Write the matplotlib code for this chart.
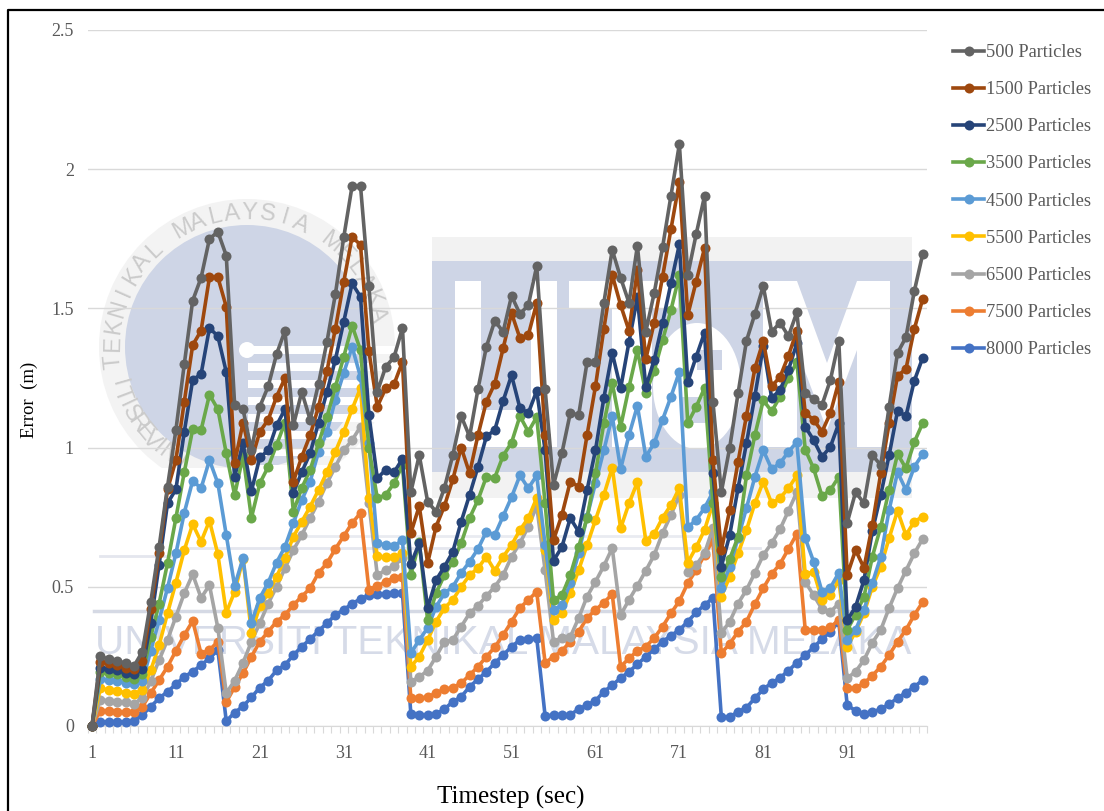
import numpy as np
import matplotlib
matplotlib.use("Agg")
import matplotlib.pyplot as plt
from matplotlib.patches import Circle, Ellipse, Rectangle

# ---------------------------------------------------
# Data
# ---------------------------------------------------

timesteps = list(range(1, 101))

err_500 = [0, .25, .24, .235, .225, .215, .267, .445, .644, .86,
           1.063, 1.30, 1.528, 1.61, 1.75, 1.775, 1.69, 1.153, 1.138, .99,
           1.147, 1.22, 1.336, 1.42, 1.08, 1.2, 1.10, 1.23, 1.38, 1.55,
           1.755, 1.94, 1.94, 1.58, 1.2, 1.29, 1.325, 1.43, .84, .973,
           .806, .77, .855, .973, 1.113, 1.04, 1.21, 1.362, 1.455, 1.416,
           1.545, 1.48, 1.512, 1.652, 1.21, .866, .98, 1.124, 1.117, 1.307,
           1.307, 1.52, 1.71, 1.61, 1.52, 1.725, 1.416, 1.555, 1.72, 1.905,
           2.09, 1.62, 1.766, 1.904, 1.165, .84, 1.0, 1.196, 1.384, 1.48,
           1.58, 1.416, 1.449, 1.40, 1.486, 1.196, 1.175, 1.153, 1.243, 1.383,
           .73, .84, .80, .973, .937, 1.147, 1.34, 1.396, 1.562, 1.695]
err_1500 = [0, .23, .225, .22, .21, .205, .235, .42, .62, .85,
            .955, 1.165, 1.368, 1.42, 1.612, 1.612, 1.506, .945, 1.09, .955,
            1.057, 1.10, 1.183, 1.25, .878, .967, 1.045, 1.147, 1.275, 1.426,
            1.595, 1.757, 1.728, 1.347, 1.147, 1.213, 1.228, 1.308, .693, .79,
            .585, .716, .79, .886, 1.0, .908, 1.045, 1.165, 1.23, 1.357,
            1.483, 1.393, 1.404, 1.52, 1.045, .668, .758, .878, .86, 1.045,
            1.22, 1.426, 1.62, 1.512, 1.42, 1.638, 1.318, 1.449, 1.614, 1.785,
            1.955, 1.476, 1.596, 1.717, .955, .632, .776, .95, 1.115, 1.285,
            1.383, 1.22, 1.254, 1.33, 1.42, 1.124, 1.10, 1.057, 1.124, 1.237,
            .542, .632, .568, .722, .908, 1.087, 1.258, 1.282, 1.426, 1.534]
err_2500 = [0, .21, .205, .2, .19, .185, .205, .37, .58, .80,
            .85, 1.057, 1.243, 1.264, 1.43, 1.40, 1.272, .895, 1.016, .844,
            .965, .99, 1.08, 1.138, .838, .912, .98, 1.09, 1.20, 1.315,
            1.452, 1.59, 1.542, 1.117, .89, .92, .912, .959, .582, .657,
            .424, .524, .572, .626, .734, .83, .931, 1.04, 1.063, 1.168,
            1.26, 1.142, 1.124, 1.204, .99, .594, .643, .747, .698, .848,
            .99, 1.178, 1.34, 1.213, 1.38, 1.54, 1.217, 1.315, 1.449, 1.59,
            1.73, 1.235, 1.326, 1.413, .908, .572, .686, .855, 1.016, 1.185,
            1.365, 1.178, 1.207, 1.279, 1.375, 1.075, 1.027, .967, 1.003, 1.087,
            .38, .428, .524, .70, .83, .973, 1.132, 1.113, 1.24, 1.323]
err_3500 = [0, .195, .19, .185, .175, .17, .185, .32, .44, .585,
            .747, .912, 1.066, 1.063, 1.19, 1.138, .98, .83, .97, .748,
            .872, .931, 1.01, 1.09, .77, .855, .92, 1.016, 1.11, 1.217,
            1.326, 1.438, 1.35, 1.0, .818, .83, .872, .937, .542, .66,
            .38, .477, .542, .59, .657, .747, .812, .895, .892, .971,
            1.018, 1.113, 1.057, 1.11, .80, .453, .47, .542, .644, .747,
            .908, 1.087, 1.232, 1.075, 1.217, 1.35, 1.196, 1.276, 1.386, 1.494,
            1.62, 1.088, 1.146, 1.214, .80, .536, .60, .68, .90, 1.045,
            1.17, 1.13, 1.183, 1.25, 1.308, .993, .925, .826, .848, .895,
            .345, .40, .464, .608, .716, .848, .977, .926, 1.02, 1.088]
err_4500 = [0, .17, .165, .16, .155, .15, .16, .27, .38, .496,
            .62, .766, .881, .854, .955, .872, .686, .503, .603, .37,
            .46, .515, .587, .644, .729, .812, .878, .985, 1.057, 1.171,
            1.268, 1.362, 1.254, 1.016, .657, .65, .646, .668, .262, .309,
            .352, .428, .477, .50, .55, .59, .636, .698, .686, .754,
            .822, .90, .854, .90, .65, .417, .435, .513, .62, .752,
            .872, .99, 1.113, .923, 1.045, 1.15, .967, 1.016, 1.10, 1.183,
            1.272, .714, .74, .783, .84, .495, .572, .675, .783, .895,
            .99, .923, .944, .985, 1.02, .675, .59, .482, .497, .55,
            .309, .345, .417, .513, .608, .776, .912, .848, .931, .977]
err_5500 = [0, .135, .13, .125, .12, .115, .13, .20, .29, .405,
            .515, .632, .725, .662, .737, .617, .407, .482, .60, .335,
            .43, .477, .536, .603, .68, .734, .788, .848, .912, .985,
            1.057, 1.138, 1.214, .82, .61, .606, .606, .62, .213, .249,
            .309, .375, .424, .453, .50, .542, .567, .608, .558, .608,
            .65, .704, .747, .819, .632, .381, .405, .477, .56, .65,
            .74, .83, .928, .71, .80, .876, .666, .69, .748, .794,
            .854, .587, .642, .704, .80, .465, .536, .62, .704, .80,
            .878, .80, .819, .854, .90, .545, .554, .453, .47, .524,
            .285, .338, .405, .50, .572, .675, .773, .686, .734, .752]
err_6500 = [0, .095, .09, .085, .085, .08, .10, .16, .237, .309,
            .393, .477, .545, .46, .506, .352, .118, .163, .227, .303,
            .37, .44, .50, .567, .632, .686, .747, .806, .872, .931,
            .99, 1.027, 1.075, .80, .542, .56, .575, .603, .159, .176,
            .199, .249, .303, .309, .357, .405, .432, .467, .50, .542,
            .608, .657, .716, .79, .56, .303, .316, .32, .388, .465,
            .518, .575, .639, .399, .453, .504, .558, .614, .693, .758,
            .83, .553, .578, .62, .711, .334, .375, .44, .489, .55,
            .614, .657, .707, .773, .84, .518, .47, .42, .41, .44,
            .172, .195, .237, .299, .345, .424, .495, .558, .62, .672]
err_7500 = [0, .055, .055, .05, .05, .05, .069, .118, .165, .213,
            .27, .327, .377, .26, .273, .303, .086, .14, .19, .249,
            .303, .339, .375, .399, .435, .465, .495, .55, .585, .636,
            .682, .729, .765, .49, .503, .518, .533, .536, .10, .10,
            .104, .118, .132, .138, .154, .183, .213, .249, .283, .327,
            .375, .424, .453, .482, .227, .249, .27, .303, .339, .388,
            .417, .443, .474, .213, .243, .27, .285, .316, .357, .405,
            .449, .513, .56, .614, .668, .262, .295, .339, .375, .438,
            .495, .546, .582, .636, .69, .345, .345, .345, .355, .381,
            .136, .136, .154, .181, .213, .255, .303, .345, .399, .445]
err_8000 = [0, .015, .015, .015, .015, .018, .04, .069, .10, .123,
            .15, .177, .195, .219, .243, .273, .018, .048, .071, .103,
            .138, .163, .20, .219, .255, .285, .312, .342, .369, .399,
            .417, .44, .456, .47, .474, .474, .477, .477, .043, .039,
            .039, .043, .061, .087, .105, .141, .168, .195, .226, .255,
            .285, .309, .312, .316, .036, .039, .039, .04, .061, .075,
            .091, .123, .147, .172, .195, .222, .249, .276, .303, .325,
            .345, .375, .408, .435, .46, .033, .033, .051, .066, .10,
            .132, .155, .173, .199, .227, .255, .283, .312, .339, .375,
            .075, .055, .043, .05, .061, .079, .10, .12, .141, .165]

series = [err_500, err_1500, err_2500, err_3500, err_4500,
          err_5500, err_6500, err_7500, err_8000]
labels = ["500 Particles", "1500 Particles", "2500 Particles", "3500 Particles",
          "4500 Particles", "5500 Particles", "6500 Particles", "7500 Particles",
          "8000 Particles"]
colors = ["#636363", "#9e480e", "#264478", "#6aa84a", "#5b9bd5",
          "#ffc000", "#a5a5a5", "#ed7d31", "#4472c4"]

WIDTH, HEIGHT = 1104, 811
SERIF = "Liberation Serif"
WM_BLUE = "#ced5e6"
WM_PALE = "#f2f2f2"

fig = plt.figure(figsize=(WIDTH / 100, HEIGHT / 100), dpi=100, facecolor="white")

# ---------------------------------------------------
# Background layer in pixel coordinates (watermark, frame)
# ---------------------------------------------------

bg = fig.add_axes([0, 0, 1, 1], zorder=0)
bg.set_xlim(0, WIDTH)
bg.set_ylim(HEIGHT, 0)
bg.axis("off")

seal_x, seal_y = 247, 347
bg.add_patch(Circle((seal_x, seal_y), 148, color="#f3f3f3", lw=0))
bg.add_patch(Circle((seal_x, seal_y), 122, color=WM_BLUE, lw=0))
bg.add_patch(Rectangle((95, 468), 310, 50, color="white", lw=0))
bg.add_patch(Circle((247, 350), 8, color="white", lw=0))
for stripe_y in range(350, 490, 17):
    bg.add_patch(Rectangle((248, stripe_y - 4), 150, 8, color="white", lw=0))


def ring_text(text, start, end):
    # one letter at a time round the seal
    for ch, ang in zip(text, np.linspace(start, end, len(text))):
        rad = np.radians(ang)
        bg.text(seal_x + 134 * np.cos(rad), seal_y - 134 * np.sin(rad), ch,
                rotation=ang - 90, ha="center", va="center", fontsize=17,
                color="#cbcbcb", family="Liberation Sans")


ring_text("TEKNIKAL MALAYSIA MELAKA", 186, 14)
for ch, ang in zip("UNIVERSITI", np.linspace(238, 196, 10)):
    rad = np.radians(ang)
    bg.text(seal_x + 134 * np.cos(rad), seal_y - 134 * np.sin(rad), ch,
            rotation=ang + 90, ha="center", va="center", fontsize=17,
            color="#cbcbcb", family="Liberation Sans")

# logo block
bg.add_patch(Rectangle((432, 237), 480, 24, color=WM_PALE, lw=0))
bg.add_patch(Rectangle((432, 261), 480, 211, color=WM_BLUE, lw=0))
bg.add_patch(Rectangle((432, 472), 480, 26, color=WM_PALE, lw=0))
# U
bg.add_patch(Rectangle((455, 281), 26, 140, color="white", lw=0))
bg.add_patch(Rectangle((531, 281), 26, 140, color="white", lw=0))
bg.add_patch(Rectangle((455, 410), 102, 37, color="white", lw=0))
# T
bg.add_patch(Rectangle((569, 281), 109, 27, color="white", lw=0))
bg.add_patch(Rectangle((612, 308), 40, 139, color="white", lw=0))
# e
bg.add_patch(Ellipse((697, 386), 88, 126, color="white", lw=0))
bg.add_patch(Rectangle((697, 350), 25, 20, color=WM_BLUE, lw=0))
bg.add_patch(Rectangle((682, 397), 30, 26, color=WM_BLUE, lw=0))
# M
bg.fill([763, 797, 827, 857, 890, 890, 857, 857, 827, 797, 797, 763],
        [281, 281, 363, 281, 281, 447, 447, 350, 430, 350, 447, 447],
        color="white", lw=0)

# lower watermark
bg.plot([94, 912], [611, 611], color="#d5d9e4", lw=2.5)
bg.plot([100, 180], [556, 556], color="#e4e6ee", lw=2)
bg.plot([190, 760], [548, 548], color="#e4e6ee", lw=2)
bg.plot([300, 700], [536, 536], color="#e9ebf1", lw=2)
bg.text(503, 643, "UNIVERSITI TEKNIKAL MALAYSIA MELAKA", ha="center", va="center",
        fontsize=29.2, color="#d6dbe8", family="Liberation Sans")

# frame: top and left edges only
bg.plot([8, 8, WIDTH], [HEIGHT, 10, 10], color="black", lw=1.6)

# ---------------------------------------------------
# Chart
# ---------------------------------------------------

left, right = 87.8, 926.9
top, bottom = 30, 726
ax = fig.add_axes([left / WIDTH, 1 - bottom / HEIGHT,
                   (right - left) / WIDTH, (bottom - top) / HEIGHT], zorder=2)
ax.patch.set_alpha(0)

for i, values in enumerate(series):
    ax.plot(timesteps, values, color=colors[i], lw=2.6, marker="o", ms=7.2,
            mew=0, label=labels[i], zorder=20 - i, clip_on=False)

ax.set_xlim(0.5, 100.5)
ax.set_ylim(0, 2.5)
ax.set_yticks([0, 0.5, 1, 1.5, 2, 2.5], ["0", "0.5", "1", "1.5", "2", "2.5"])
ax.set_xticks(timesteps[::10], [str(t) for t in timesteps[::10]])
ax.set_xticks(np.arange(0.5, 101), minor=True)
ax.tick_params(axis="x", which="major", length=0, pad=14)
ax.tick_params(axis="x", which="minor", length=5, width=0.8, color="#d9d9d9")
ax.tick_params(axis="y", length=0, pad=10)
for tick in ax.get_xticklabels() + ax.get_yticklabels():
    tick.set_family(SERIF)
    tick.set_fontsize(13)
    tick.set_color("#595959")

ax.grid(axis="y", color="#d9d9d9", lw=1)
ax.set_axisbelow(True)
for name in ["top", "right", "left"]:
    ax.spines[name].set_visible(False)
ax.spines["bottom"].set_color("#d9d9d9")

fig.text(511 / WIDTH, 1 - 797 / HEIGHT, "Timestep (sec)", ha="center", va="center",
         family=SERIF, fontsize=18, color="black")
fig.text(29 / WIDTH, 1 - 400 / HEIGHT, "Error  (m)", ha="center", va="center",
         rotation=90, family=SERIF, fontsize=13.5, color="black")

leg = ax.legend(loc="upper left", bbox_to_anchor=(953 / WIDTH, 1 - 44 / HEIGHT),
                bbox_transform=fig.transFigure, frameon=False,
                prop={"family": SERIF, "size": 13.2}, labelcolor="#595959",
                handlelength=1.7, handletextpad=0.1, labelspacing=1.1,
                borderpad=0, borderaxespad=0)
leg.set_zorder(30)

fig.savefig("out.png", dpi=100)
